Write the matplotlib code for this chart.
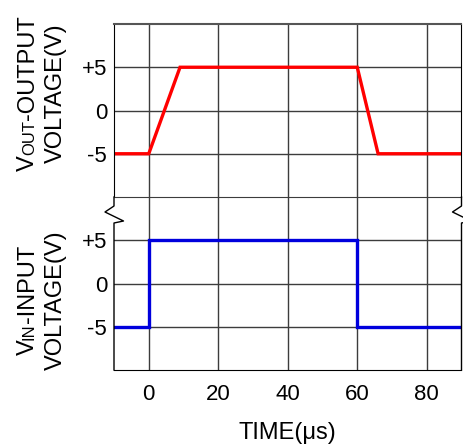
import matplotlib
matplotlib.use("Agg")
import matplotlib.pyplot as plt
from matplotlib.lines import Line2D

plt.rcParams['font.family'] = ['Liberation Sans', 'DejaVu Sans']

# ---- data ----
t_out = [-10, 0, 9, 60, 66, 90]
v_out = [-5, -5, 5, 5, -5, -5]
t_in = [-10, 0, 0, 60, 60, 90]
v_in = [-5, -5, 5, 5, -5, -5]
x_ticks = [0, 20, 40, 60, 80]
y_ticks = [-5, 0, 5]
y_tick_labels = ['-5', '0', '+5']
x_label = 'TIME(\u03bcs)'
top_label = [[('V', 17), ('OUT', 12), ('-OUTPUT', 17)], [('VOLTAGE(V)', 17)]]
bot_label = [[('V', 17), ('IN', 12), ('-INPUT', 17)], [('VOLTAGE(V)', 17)]]

W, H = 464, 448
fig = plt.figure(figsize=(W / 100, H / 100), dpi=100)

def fx(px):
    return px / W

def fy(py):
    return (H - py) / H

left, right = 114, 461.5
top, mid, bottom = 24, 197, 370
ax_top = fig.add_axes([fx(left), fy(mid), fx(right) - fx(left), fy(top) - fy(mid)])
ax_bot = fig.add_axes([fx(left), fy(bottom), fx(right) - fx(left), fy(mid) - fy(bottom)])

grid_c = '#3c3c3c'
for ax in (ax_top, ax_bot):
    ax.set_xlim(-10, 90)
    ax.set_ylim(-10, 10)
    ax.set_xticks(x_ticks)
    ax.set_yticks(y_ticks)
    ax.set_yticklabels(y_tick_labels, fontsize=16)
    ax.tick_params(length=0, pad=5)
    ax.grid(True, color=grid_c, lw=1.0)
    ax.set_axisbelow(True)
    ax.spines['right'].set_color('black')
    ax.spines['left'].set_color('black')
    ax.spines['bottom'].set_color('black')

ax_top.tick_params(axis='x', labelbottom=False)
ax_top.spines['top'].set_color('#555555')
ax_top.spines['top'].set_linewidth(1.5)
ax_top.spines['bottom'].set_visible(False)
ax_bot.spines['top'].set_color(grid_c)
ax_bot.spines['left'].set_visible(False)
ax_bot.spines['right'].set_visible(False)
ax_bot.tick_params(axis='x', labelsize=16, pad=10)
ax_bot.set_xlabel(x_label, fontsize=17, labelpad=12)

ax_top.plot(t_out, v_out, color='#ff0000', lw=2.4, solid_joinstyle='miter')
ax_bot.plot(t_in, v_in, color='#0000dd', lw=2.4, solid_joinstyle='miter')

# spines of the lower panel with break marks
for xs in (left, right):
    pts = [(xs, mid), (xs, 206), (xs - 9, 212), (xs + 9.5, 221), (xs, 223), (xs, bottom)]
    fig.add_artist(Line2D([fx(p[0]) for p in pts], [fy(p[1]) for p in pts],
                          color='black', lw=1.0, transform=fig.transFigure))

# rich rotated y labels
fig.canvas.draw()
renderer = fig.canvas.get_renderer()

def rich_vertical(parts, x_base, y_center):
    texts = []
    widths = []
    for s, size in parts:
        t = fig.text(0, 0, s, fontsize=size, rotation=90, rotation_mode='anchor',
                     ha='left', va='baseline')
        texts.append(t)
        widths.append(t.get_window_extent(renderer).height)
    total = sum(widths)
    y = y_center + total / 2
    for t, w in zip(texts, widths):
        t.set_position((fx(x_base), fy(y)))
        y -= w

for lines, yc in ((top_label, 93), (bot_label, 300)):
    for i, parts in enumerate(lines):
        rich_vertical(parts, 34 + 28 * i, yc)

fig.savefig('out.png', dpi=100)
